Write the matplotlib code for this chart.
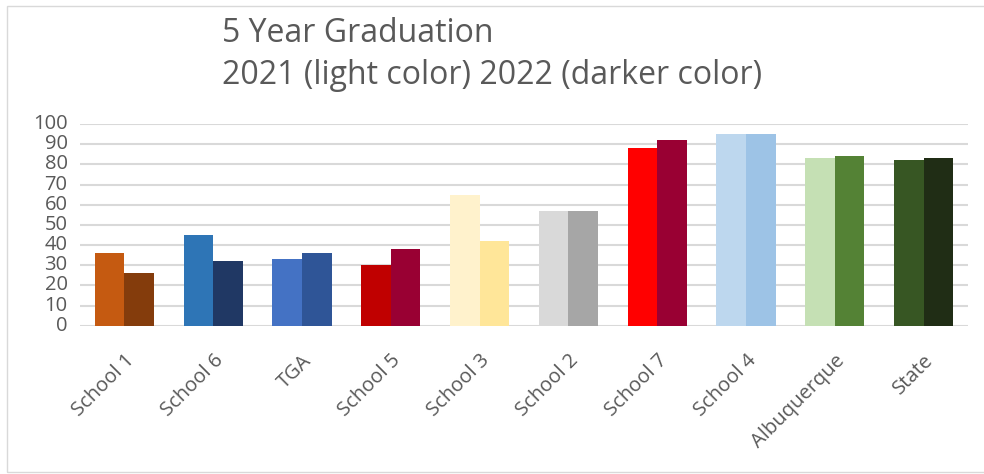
import numpy as np
import matplotlib
matplotlib.use("Agg")
import matplotlib.pyplot as plt
from matplotlib.patches import Rectangle

schools = ["School 1", "School 6", "TGA", "School 5", "School 3",
           "School 2", "School 7", "School 4", "Albuquerque", "State"]
grad_2021 = [36, 45, 33, 30, 65, 57, 88, 95, 83, 82]
grad_2022 = [26, 32, 36, 38, 42, 57, 92, 95, 84, 83]
light_colors = ["#C55A11", "#2E75B6", "#4472C4", "#C00000", "#FFF2CC",
                "#D9D9D9", "#FF0000", "#BDD7EE", "#C5E0B4", "#375623"]
dark_colors = ["#843C0C", "#203864", "#2F5597", "#990033", "#FFE699",
               "#A6A6A6", "#990033", "#9DC3E6", "#548235", "#202D15"]

plt.rcParams['font.family'] = ['Open Sans', 'DejaVu Sans']
txt = "#595959"

fig = plt.figure(figsize=(9.84, 4.74), dpi=100)
ax = fig.add_axes([80/984, 1 - 325.7/474, 888/984, (325.7 - 124)/474])

x = np.arange(len(schools))
w = 1/3
ax.bar(x - w/2, grad_2021, w, color=light_colors, zorder=3)
ax.bar(x + w/2, grad_2022, w, color=dark_colors, zorder=3)

ax.set_ylim(0, 100)
ax.set_xlim(-0.5, len(schools) - 0.5)
ax.set_yticks(range(0, 101, 10))
ax.yaxis.grid(True, color="#D9D9D9", linewidth=1.5, zorder=0)
ax.tick_params(axis="y", length=0, pad=9, labelsize=14.5, labelcolor=txt)
ax.tick_params(axis="x", length=0, pad=18, labelsize=14.5, labelcolor=txt)
ax.set_xticks(x)
ax.set_xticklabels(schools, rotation=45, ha="right", rotation_mode="anchor")
for s in ax.spines.values():
    s.set_visible(False)
for lbl in ax.get_yticklabels():
    lbl.set_verticalalignment("center")

fig.text(222/984, 1 - 33/474, "5 Year Graduation", fontsize=23, color=txt,
         va="center", ha="left")
fig.text(222/984, 1 - 76/474, "2021 (light color) 2022 (darker color)",
         fontsize=23, color=txt, va="center", ha="left")

fig.patches.append(Rectangle((7/984, 1 - 472/474), 985/984, 466/474,
                             transform=fig.transFigure, fill=False,
                             edgecolor="#D9D9D9", linewidth=1))

fig.savefig("out.png", dpi=100)
